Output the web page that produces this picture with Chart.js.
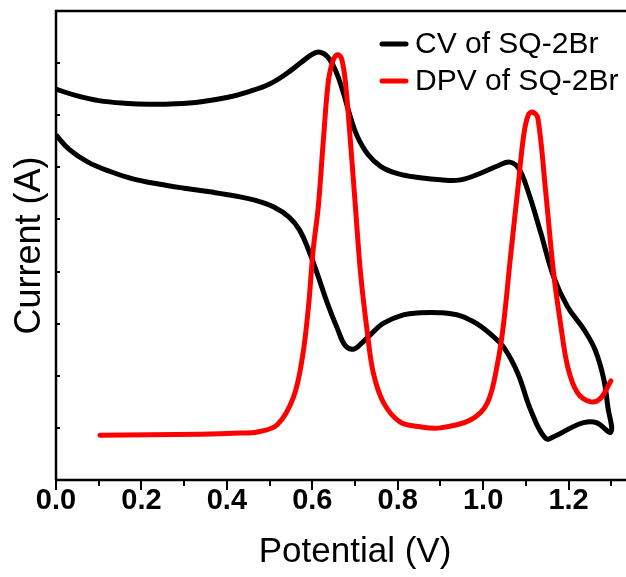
<!DOCTYPE html>
<html>
<head>
<meta charset="utf-8">
<script src="https://cdn.jsdelivr.net/npm/chart.js@4"></script>
<style>
html,body{margin:0;padding:0;background:#fff;overflow:hidden;}
#wrap{width:626px;height:577px;overflow:hidden;position:relative;}
canvas{display:block;}
</style>
</head>
<body>
<div id="wrap"><canvas id="c" width="700" height="577"></canvas></div>
<script>
// ---- data ----
const seriesNames = ['CV of SQ-2Br', 'DPV of SQ-2Br'];
const seriesColors = ['#000000', '#ff0000'];

// CV loop: forward branch (left -> right, lower), then return branch (right -> left, upper)
const potentialCV = [0.000,0.030,0.075,0.127,0.180,0.240,0.300,0.360,0.420,0.470,0.510,0.545,0.570,0.592,0.612,0.635,0.659,0.677,0.696,0.715,0.740,0.767,0.813,0.853,0.900,0.947,0.985,1.020,1.048,1.081,1.111,1.146,1.170,1.200,1.235,1.265,1.299,
  1.292,1.282,1.262,1.235,1.198,1.165,1.135,1.104,1.083,1.062,1.035,1.001,0.947,0.900,0.853,0.800,0.760,0.730,0.705,0.688,0.672,0.655,0.636,0.618,0.600,0.575,0.540,0.500,0.450,0.400,0.340,0.280,0.220,0.160,0.100,0.050,0.000];
const currentCV = [6.62,6.35,6.10,5.92,5.78,5.68,5.60,5.53,5.45,5.36,5.24,5.05,4.80,4.40,3.95,3.40,2.90,2.58,2.51,2.62,2.82,3.01,3.17,3.21,3.21,3.15,3.00,2.78,2.55,2.05,1.35,0.80,0.85,0.98,1.10,1.10,0.92,
  1.40,1.95,2.50,2.90,3.32,3.90,4.74,5.57,5.98,6.10,6.03,5.91,5.76,5.76,5.80,5.88,6.02,6.25,6.60,7.00,7.45,7.85,8.12,8.21,8.17,8.02,7.80,7.60,7.45,7.34,7.26,7.22,7.21,7.23,7.28,7.37,7.50];

const potentialDPV = [0.103,0.338,0.431,0.471,0.518,0.556,0.577,0.591,0.602,0.614,0.626,0.638,0.649,0.659,0.668,0.677,0.689,0.701,0.713,0.729,0.743,0.767,0.806,0.853,0.900,0.970,1.010,1.034,1.048,1.064,1.081,1.095,1.106,1.116,1.128,1.146,1.165,1.181,1.198,1.221,1.252,1.275,1.299];
const currentDPV = [0.86,0.88,0.90,0.92,1.06,1.59,2.36,3.32,4.41,5.24,6.53,7.68,8.06,8.16,8.10,7.68,6.53,5.24,3.97,2.82,2.05,1.48,1.11,1.02,1.00,1.15,1.48,2.25,3.01,4.28,5.57,6.62,7.01,7.06,6.95,5.57,3.97,3.01,2.17,1.67,1.50,1.57,1.90];

const xTickValues = [0,0.1,0.2,0.3,0.4,0.5,0.6,0.7,0.8,0.9,1.0,1.1,1.2,1.3,1.4];
const xTickLabels = ['0.0','','0.2','','0.4','','0.6','','0.8','','1.0','','1.2','','1.4'];
const yTickValues = [1,2,3,4,5,6,7,8];

const toPts = (xs, ys) => xs.map((x, i) => ({x: x, y: ys[i]}));

const framePlugin = {
  id: 'frame',
  afterDraw(chart) {
    const ctx = chart.ctx, a = chart.chartArea;
    const xs = chart.scales.x, ys = chart.scales.y;
    ctx.save();
    ctx.strokeStyle = '#000';
    ctx.lineWidth = 2.5;
    ctx.lineCap = 'butt';
    ctx.beginPath();
    ctx.moveTo(a.left, a.bottom); ctx.lineTo(a.left, a.top); ctx.lineTo(a.right, a.top); ctx.lineTo(a.right, a.bottom); ctx.lineTo(a.left, a.bottom);
    ctx.stroke();
    ctx.lineWidth = 2;
    xTickValues.forEach((v, i) => {
      const px = Math.round(xs.getPixelForValue(v));
      const len = xTickLabels[i] ? 10 : 6;
      ctx.beginPath(); ctx.moveTo(px, a.bottom); ctx.lineTo(px, a.bottom + len); ctx.stroke();
    });
    yTickValues.forEach(v => {
      const py = Math.round(ys.getPixelForValue(v));
      ctx.beginPath(); ctx.moveTo(a.left, py); ctx.lineTo(a.left + 4, py); ctx.stroke();
    });
    // legend
    ctx.font = '30px "Liberation Sans", Arial, sans-serif';
    ctx.textBaseline = 'middle';
    ctx.textAlign = 'left';
    chart.data.datasets.forEach((ds, i) => {
      const y = 44 + i * 37;
      ctx.strokeStyle = ds.borderColor;
      ctx.lineWidth = 5;
      ctx.lineCap = 'round';
      ctx.beginPath(); ctx.moveTo(382, y); ctx.lineTo(406, y); ctx.stroke();
      ctx.fillStyle = '#000';
      ctx.fillText(ds.label, 415, y + 1);
    });
    ctx.restore();
  }
};

new Chart(document.getElementById('c'), {
  type: 'scatter',
  data: {
    datasets: [
      {label: seriesNames[0], data: toPts(potentialCV, currentCV), borderColor: seriesColors[0], backgroundColor: seriesColors[0], showLine: true, pointRadius: 0, borderWidth: 5, tension: 0.4, borderJoinStyle: 'round', order: 2},
      {label: seriesNames[1], data: toPts(potentialDPV, currentDPV), borderColor: seriesColors[1], backgroundColor: seriesColors[1], showLine: true, pointRadius: 0, borderWidth: 5, tension: 0.35, borderCapStyle: 'round', borderJoinStyle: 'round', order: 1}
    ]
  },
  options: {
    responsive: false,
    devicePixelRatio: 1,
    animation: false,
    layout: {padding: {top: 11, right: 46, left: 0, bottom: 0}},
    plugins: {legend: {display: false}, tooltip: {enabled: false}},
    scales: {
      x: {
        type: 'linear', min: 0, max: 1.4,
        afterBuildTicks: s => { s.ticks = xTickValues.map(v => ({value: v})); },
        afterFit: s => { s.height = 97; },
        grid: {display: false},
        border: {display: false},
        ticks: {
          autoSkip: false, maxRotation: 0, padding: -4,
          color: '#000',
          font: {family: '"Liberation Sans Narrow", "Liberation Sans", Arial, sans-serif', size: 29, weight: 'bold'},
          callback: (v, i) => xTickLabels[i]
        },
        title: {display: true, text: 'Potential (V)', color: '#000', padding: {top: 0, bottom: 4},
          font: {family: '"Liberation Sans", Arial, sans-serif', size: 35}}
      },
      y: {
        type: 'linear', min: 0, max: 9,
        afterFit: s => { s.width = 56; },
        grid: {display: false},
        border: {display: false},
        ticks: {display: false},
        title: {display: true, text: 'Current (A)', color: '#000', padding: {top: 8, bottom: 0},
          font: {family: '"Liberation Sans", Arial, sans-serif', size: 36}}
      }
    }
  },
  plugins: [framePlugin]
});
</script>
</body>
</html>
